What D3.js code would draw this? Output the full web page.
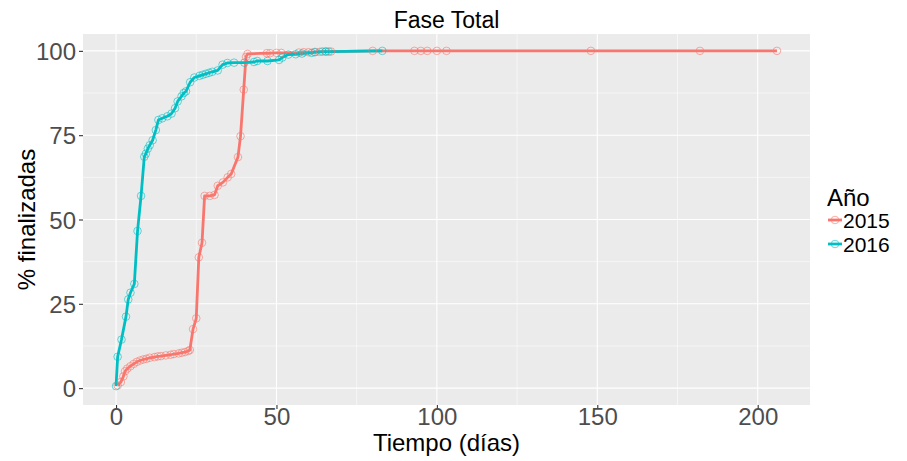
<!DOCTYPE html>
<html>
<head>
<meta charset="utf-8">
<script src="https://d3js.org/d3.v7.min.js"></script>
<style>
  html, body { margin: 0; padding: 0; background: #fff; }
  svg { display: block; font-family: "Liberation Sans", Arial, sans-serif; }
</style>
</head>
<body>
<svg id="chart" width="907" height="461"></svg>
<script>
// ---- data ----
const title = "Fase Total";
const xTitle = "Tiempo (días)";
const yTitle = "% finalizadas";
const legendTitle = "Año";
const seriesNames = ["2015", "2016"];
const seriesColors = ["#F8766D", "#00BFC4"];
const xTicks = [0, 50, 100, 150, 200];
const yTicks = [0, 25, 50, 75, 100];
const xMinor = [25, 75, 125, 175];
const yMinor = [12.5, 37.5, 62.5, 87.5];

const days2015 = [0.5, 1.5, 2.3, 2.8, 3.5, 4.5, 5.5, 6.5, 7.5, 8.5, 9.5, 10.5, 12, 13, 14, 15.5, 17, 18, 19.5, 20.5, 21.5, 22.5, 23,
  24, 25, 25.8, 26.8, 27.6, 29.2, 30.7, 31.7, 33.3, 34.8, 35.9, 38, 38.8, 39.8, 40.5, 41,
  47, 48, 50, 51.5, 57, 58.5, 60, 62, 63.5, 65.5, 67, 80, 93, 95, 97, 100, 103, 148, 182, 206];
const pct2015 = [0.8, 1.8, 3.5, 5, 5.8, 6.5, 7.2, 7.8, 8.2, 8.5, 8.7, 9, 9.2, 9.4, 9.5, 9.7, 9.9, 10.1, 10.3, 10.5, 10.7, 11, 11.3,
  17.5, 20.7, 38.8, 43.1, 57, 57, 57.3, 60, 61, 62.5, 63.5, 68.5, 74.7, 88.5, 98.2, 99.1,
  99.3, 99.3, 99.4, 99.4, 99.5, 99.6, 99.6, 99.7, 99.7, 99.8, 99.8, 100, 100, 100, 100, 100, 100, 100, 100, 100];

const days2016 = [0, 0.5, 1.7, 3.1, 3.8, 4.5, 5.7, 6.7, 7.8, 8.8, 9.3, 9.9, 10.5, 11.4, 12.4, 13.2, 14.4, 16, 17.3, 18.4, 19.2,
  20.4, 21.1, 21.8, 23.1, 24.4, 26, 27, 28, 29, 30, 31.7, 33.2, 34.7, 36.8, 40, 43, 44, 47.2, 50.8, 51.8, 53.7, 56, 58, 61,
  62, 64.3, 65.3, 66.3, 83];
const pct2016 = [0.6, 9.3, 14.4, 21.2, 26.3, 28.3, 30.9, 46.6, 57, 68.6, 69.5, 71, 72, 73.5, 76.5, 79.5, 80, 80.6, 81.4, 83, 85,
  86.5, 87.5, 88, 90.7, 92.1, 92.6, 92.9, 93.2, 93.5, 93.8, 94.2, 95.9, 96.4, 96.5, 96.5, 96.7, 97, 97, 97.3, 98, 98.9, 99, 99.2, 99.4,
  99.6, 99.8, 99.8, 99.8, 100];

const seriesDays = [days2015, days2016];
const seriesPct = [pct2015, pct2016];

// ---- layout ----
const svg = d3.select("#chart");
const panel = { left: 83, right: 810, top: 34, bottom: 405 };

const allDays = days2015.concat(days2016);
const xMax = d3.max(allDays), xMin = d3.min(allDays);
const xPad = (xMax - xMin) * 0.05;
const x = d3.scaleLinear().domain([xMin - xPad, xMax + xPad]).range([panel.left, panel.right]);
const y = d3.scaleLinear().domain([-5, 105]).range([panel.bottom, panel.top]);

// panel background
svg.append("rect")
  .attr("x", panel.left).attr("y", panel.top)
  .attr("width", panel.right - panel.left).attr("height", panel.bottom - panel.top)
  .attr("fill", "#EBEBEB");

// grid
const grid = svg.append("g");
grid.selectAll(".xm").data(xMinor).join("line")
  .attr("x1", d => x(d)).attr("x2", d => x(d)).attr("y1", panel.top).attr("y2", panel.bottom)
  .attr("stroke", "#fff").attr("stroke-width", 0.55);
grid.selectAll(".ym").data(yMinor).join("line")
  .attr("x1", panel.left).attr("x2", panel.right).attr("y1", d => y(d)).attr("y2", d => y(d))
  .attr("stroke", "#fff").attr("stroke-width", 0.55);
grid.selectAll(".xM").data(xTicks).join("line")
  .attr("x1", d => x(d)).attr("x2", d => x(d)).attr("y1", panel.top).attr("y2", panel.bottom)
  .attr("stroke", "#fff").attr("stroke-width", 1.1);
grid.selectAll(".yM").data(yTicks).join("line")
  .attr("x1", panel.left).attr("x2", panel.right).attr("y1", d => y(d)).attr("y2", d => y(d))
  .attr("stroke", "#fff").attr("stroke-width", 1.1);

// axes
const xAxis = svg.append("g").attr("transform", `translate(0,${panel.bottom})`)
  .call(d3.axisBottom(x).tickValues(xTicks).tickSize(4).tickPadding(2).tickFormat(d3.format("d")));
const yAxis = svg.append("g").attr("transform", `translate(${panel.left},0)`)
  .call(d3.axisLeft(y).tickValues(yTicks).tickSize(4).tickPadding(3).tickFormat(d3.format("d")));
[xAxis, yAxis].forEach(a => {
  a.select(".domain").remove();
  a.selectAll(".tick line").attr("stroke", "#333333").attr("stroke-width", 1.1);
  a.selectAll(".tick text").attr("fill", "#4D4D4D").style("font-size", "24px")
    .style("font-family", "'Liberation Sans', Arial, sans-serif");
});
xAxis.selectAll(".tick text").attr("dy", "0.6em");
yAxis.selectAll(".tick text").attr("dy", "0.36em");

// lines
const line = d3.line().x(d => x(d[0])).y(d => y(d[1]));
const seriesData = seriesNames.map((n, i) => seriesDays[i].map((d, j) => [d, seriesPct[i][j]]));

seriesData.forEach((pts, i) => {
  svg.append("path").datum(pts)
    .attr("d", line).attr("fill", "none")
    .attr("stroke", seriesColors[i]).attr("stroke-width", 2.8)
    .attr("stroke-linejoin", "round").attr("stroke-linecap", "butt");
});
seriesData.forEach((pts, i) => {
  svg.append("g").selectAll("circle").data(pts).join("circle")
    .attr("cx", d => x(d[0])).attr("cy", d => y(d[1])).attr("r", 3.8)
    .attr("fill", "none").attr("stroke", seriesColors[i]).attr("stroke-width", 1)
    .attr("stroke-opacity", 0.6);
});

// title
svg.append("text").attr("x", (panel.left + panel.right) / 2).attr("y", 28)
  .attr("text-anchor", "middle").style("font-size", "23px").attr("fill", "#000").text(title);

// axis titles
svg.append("text").attr("x", (panel.left + panel.right) / 2).attr("y", 451)
  .attr("text-anchor", "middle").style("font-size", "24px").attr("fill", "#000").text(xTitle);
svg.append("text")
  .attr("transform", `translate(35,${(panel.top + panel.bottom) / 2}) rotate(-90)`)
  .attr("text-anchor", "middle").style("font-size", "24px").attr("fill", "#000").text(yTitle);

// legend
const lg = svg.append("g");
lg.append("text").attr("x", 827).attr("y", 206).style("font-size", "24px").attr("fill", "#000").text(legendTitle);
const keyY = [220, 244];
seriesNames.forEach((n, i) => {
  lg.append("line").attr("x1", 828).attr("x2", 842).attr("y1", keyY[i]).attr("y2", keyY[i])
    .attr("stroke", seriesColors[i]).attr("stroke-width", 2.8);
  lg.append("circle").attr("cx", 835).attr("cy", keyY[i]).attr("r", 3.8)
    .attr("fill", "none").attr("stroke", seriesColors[i]).attr("stroke-width", 1).attr("stroke-opacity", 0.6);
  lg.append("text").attr("x", 843).attr("y", keyY[i] + 8).style("font-size", "21px").attr("fill", "#000").text(n);
});
</script>
</body>
</html>
